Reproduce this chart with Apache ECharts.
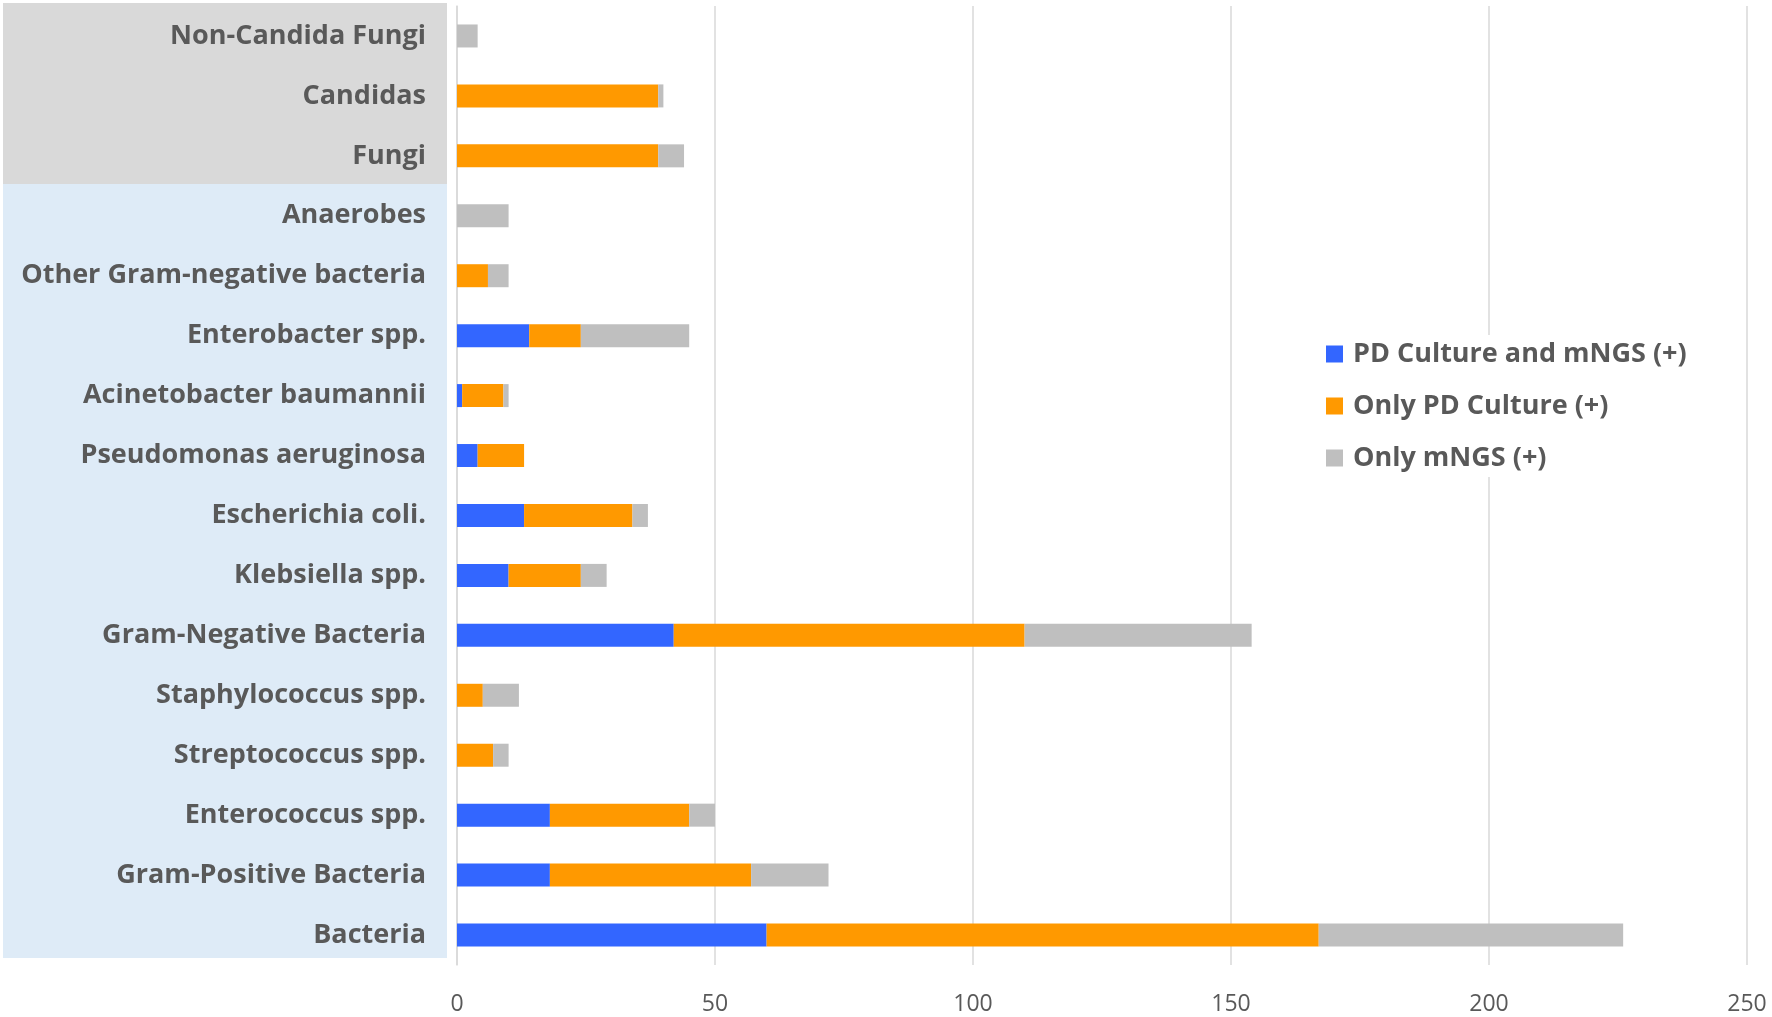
<!DOCTYPE html>
<html>
<head>
<meta charset="utf-8">
<title>PD culture vs mNGS</title>
<script src="https://cdn.jsdelivr.net/npm/echarts@6/dist/echarts.min.js"></script>
<style>
  html, body { margin: 0; padding: 0; background: #fff; }
  #chart { width: 1772px; height: 1017px; }
</style>
</head>
<body>
<div id="chart"></div>
<script>
// categories, listed top to bottom
var categories = [
    'Non-Candida Fungi', 'Candidas', 'Fungi', 'Anaerobes',
    'Other Gram-negative bacteria', 'Enterobacter spp.', 'Acinetobacter baumannii',
    'Pseudomonas aeruginosa', 'Escherichia coli.', 'Klebsiella spp.',
    'Gram-Negative Bacteria', 'Staphylococcus spp.', 'Streptococcus spp.',
    'Enterococcus spp.', 'Gram-Positive Bacteria', 'Bacteria'
];
var seriesNames = ['PD Culture and mNGS (+)', 'Only PD Culture (+)', 'Only mNGS (+)'];
var bothPositive = [0, 0, 0, 0, 0, 14, 1, 4, 13, 10, 42, 0, 0, 18, 18, 60];
var cultureOnly = [0, 39, 39, 0, 6, 10, 8, 9, 21, 14, 68, 5, 7, 27, 39, 107];
var mngsOnly = [4, 1, 5, 10, 4, 21, 1, 0, 3, 5, 44, 7, 3, 5, 15, 59];
var xTicks = [0, 50, 100, 150, 200, 250];

var colors = ['#3366ff', '#ff9900', '#bfbfbf'];
var textGray = '#595959';
var labelFont = '"Open Sans", Lato, sans-serif';

var myChart = echarts.init(document.getElementById('chart'));

function barSeries(name, data, color) {
    return {
        name: name,
        type: 'bar',
        stack: 'total',
        barWidth: 23,
        data: data,
        itemStyle: { color: color },
        emphasis: { disabled: true }
    };
}

var option = {
    animation: false,
    backgroundColor: '#fff',
    color: colors,
    // label background bands (fungi / bacteria)
    graphic: [
        { type: 'rect', z: -1, shape: { x: 3, y: 3, width: 444, height: 181 }, style: { fill: '#d9d9d9' } },
        { type: 'rect', z: -1, shape: { x: 3, y: 184, width: 444, height: 774 }, style: { fill: '#deebf7' } }
    ],
    legend: {
        orient: 'vertical',
        left: 1321,
        top: 335,
        padding: [5, 5, 5, 5],
        backgroundColor: '#fff',
        itemWidth: 17,
        itemHeight: 17,
        itemGap: 24,
        icon: 'rect',
        data: seriesNames,
        textStyle: {
            fontFamily: labelFont,
            fontWeight: 'bold',
            fontSize: 27,
            lineHeight: 28,
            color: textGray,
            padding: [0, 0, 0, 5]
        }
    },
    grid: {
        left: 457,
        right: 25,
        top: 6,
        bottom: 52,
        containLabel: false
    },
    xAxis: {
        type: 'value',
        min: xTicks[0],
        max: xTicks[xTicks.length - 1],
        interval: 50,
        axisLine: { show: false },
        axisTick: { show: false },
        splitLine: { lineStyle: { color: '#d9d9d9', width: 1.5 } },
        axisLabel: {
            margin: 28,
            fontFamily: labelFont,
            fontSize: 23,
            color: textGray
        }
    },
    yAxis: {
        type: 'category',
        inverse: true,
        data: categories,
        axisLine: { show: true, lineStyle: { color: '#d9d9d9', width: 1.5 } },
        axisTick: { show: false },
        axisLabel: {
            margin: 31,
            fontFamily: labelFont,
            fontWeight: 'bold',
            fontSize: 27,
            color: textGray
        }
    },
    series: [
        barSeries(seriesNames[0], bothPositive, colors[0]),
        barSeries(seriesNames[1], cultureOnly, colors[1]),
        barSeries(seriesNames[2], mngsOnly, colors[2])
    ]
};

myChart.setOption(option);
</script>
</body>
</html>
